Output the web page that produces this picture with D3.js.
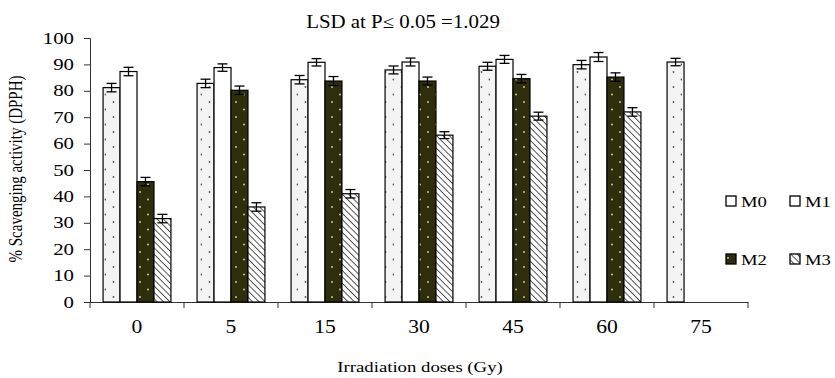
<html>
<head>
<meta charset="utf-8">
<script src="https://d3js.org/d3.v7.min.js"></script>
<style>
body { margin: 0; background: white; }
text { font-family: "Liberation Serif", "Times New Roman", serif; fill: #000; }
</style>
</head>
<body>
<div id="chart"></div>
<script>
// values
var doses = ["0", "5", "15", "30", "45", "60", "75"];
var series = ["M0", "M1", "M2", "M3"];
var m0 = [81.2, 82.8, 84.2, 87.9, 89.3, 89.9, 90.9];
var m1 = [87.3, 88.8, 90.8, 90.9, 91.9, 92.8, null];
var m2 = [45.6, 80.2, 83.7, 83.7, 84.6, 85.2, null];
var m3 = [31.6, 36.0, 41.0, 63.2, 70.4, 72.0, null];
var errM0 = [1.6, 1.6, 1.6, 1.5, 1.5, 1.6, 1.4];
var errM1 = [1.6, 1.4, 1.4, 1.5, 1.5, 1.7, null];
var errM2 = [1.6, 1.6, 1.7, 1.5, 1.6, 1.6, null];
var errM3 = [1.6, 1.6, 1.6, 1.3, 1.5, 1.6, null];
var yTicks = [0, 10, 20, 30, 40, 50, 60, 70, 80, 90, 100];

var W = 835, H = 378;
var margin = {top: 38, right: 87, bottom: 76, left: 90},
    width = W - margin.left - margin.right,
    height = H - margin.top - margin.bottom;

var svg = d3.select("#chart").append("svg")
    .attr("width", W)
    .attr("height", H);

var defs = svg.append("defs");

// M0: pale dotted
var p0 = defs.append("pattern").attr("id", "pM0")
    .attr("patternUnits", "userSpaceOnUse").attr("width", 16).attr("height", 15);
p0.append("rect").attr("width", 16).attr("height", 15).attr("fill", "#f4f4f4");
p0.append("circle").attr("cx", 7.5).attr("cy", 4).attr("r", 0.9).attr("fill", "#555");
p0.append("circle").attr("cx", 15.5).attr("cy", 11.5).attr("r", 0.9).attr("fill", "#555");

// M2: dark olive with light dots
var p2 = defs.append("pattern").attr("id", "pM2")
    .attr("patternUnits", "userSpaceOnUse").attr("width", 16).attr("height", 15);
p2.append("rect").attr("width", 16).attr("height", 15).attr("fill", "#2f2e0c");
p2.append("circle").attr("cx", 2).attr("cy", 4).attr("r", 1).attr("fill", "#c9c78e");
p2.append("circle").attr("cx", 10).attr("cy", 11.5).attr("r", 1).attr("fill", "#c9c78e");

// M3: diagonal hatch, top-left to bottom-right
var p3 = defs.append("pattern").attr("id", "pM3")
    .attr("patternUnits", "userSpaceOnUse").attr("width", 4.5).attr("height", 4.5)
    .attr("patternTransform", "rotate(-45)");
p3.append("rect").attr("width", 4.5).attr("height", 4.5).attr("fill", "#fff");
p3.append("line").attr("x1", 0).attr("y1", 0).attr("x2", 0).attr("y2", 4.5)
    .attr("stroke", "#3a3a3a").attr("stroke-width", 1.7);

var fills = {M0: "url(#pM0)", M1: "#ffffff", M2: "url(#pM2)", M3: "url(#pM3)"};
var values = {M0: m0, M1: m1, M2: m2, M3: m3};
var errors = {M0: errM0, M1: errM1, M2: errM2, M3: errM3};

var g = svg.append("g")
    .attr("transform", "translate(" + margin.left + "," + margin.top + ")");

var x0 = d3.scaleBand().domain(doses).range([0, width]).padding(0);
var x1 = d3.scaleBand().domain(series).range([0, x0.bandwidth()])
    .paddingInner(0).paddingOuter(0.77);
var y = d3.scaleLinear().domain([0, 100]).range([height, 0]);

// y axis
var yAxis = g.append("g")
    .call(d3.axisLeft(y).tickValues(yTicks).tickSize(6).tickPadding(0));
yAxis.select(".domain").attr("stroke", "#333");
yAxis.selectAll(".tick line").attr("stroke", "#333");
yAxis.selectAll(".tick text")
    .attr("x", null)
    .attr("transform", "translate(-16,0) scale(1.3,1)")
    .style("font-size", "16px")
    .style("font-family", "Liberation Serif");

// x axis: labels at band centres, ticks at band edges
var xAxis = g.append("g")
    .attr("transform", "translate(0," + height + ")")
    .call(d3.axisBottom(x0).tickSize(0).tickPadding(0));
xAxis.select(".domain").attr("stroke", "#333");
xAxis.selectAll(".tick text")
    .attr("y", null).attr("dy", null)
    .attr("transform", "translate(0,31) scale(1.2,1)")
    .style("font-size", "18px")
    .style("font-family", "Liberation Serif");
g.append("g").selectAll("line")
    .data(doses.concat(["end"]))
    .enter().append("line")
    .attr("x1", function(d, i) { return i < doses.length ? x0(d) : width; })
    .attr("x2", function(d, i) { return i < doses.length ? x0(d) : width; })
    .attr("y1", height).attr("y2", height + 6)
    .attr("stroke", "#333");

// bars
var rows = [];
doses.forEach(function(d, i) {
  series.forEach(function(s) {
    if (values[s][i] != null) rows.push({dose: d, s: s, v: values[s][i], e: errors[s][i]});
  });
});

g.append("g").selectAll("rect")
  .data(rows)
  .enter().append("rect")
    .attr("x", function(d) { return x0(d.dose) + x1(d.s); })
    .attr("y", function(d) { return y(d.v); })
    .attr("width", x1.bandwidth())
    .attr("height", function(d) { return height - y(d.v); })
    .attr("fill", function(d) { return fills[d.s]; })
    .attr("stroke", "#000")
    .attr("stroke-width", 1.2);

// error bars
var eb = g.append("g").selectAll("g")
  .data(rows)
  .enter().append("g")
    .attr("transform", function(d) { return "translate(" + (x0(d.dose) + x1(d.s) + x1.bandwidth() / 2) + ",0)"; })
    .attr("stroke", "#000").attr("stroke-width", 1.3);
eb.append("line").attr("x1", 0).attr("x2", 0)
  .attr("y1", function(d) { return y(d.v + d.e); })
  .attr("y2", function(d) { return y(d.v - d.e); });
eb.append("line").attr("x1", -5).attr("x2", 5)
  .attr("y1", function(d) { return y(d.v + d.e); })
  .attr("y2", function(d) { return y(d.v + d.e); });
eb.append("line").attr("x1", -5).attr("x2", 5)
  .attr("y1", function(d) { return y(d.v - d.e); })
  .attr("y2", function(d) { return y(d.v - d.e); });

// title
svg.append("text")
  .attr("transform", "translate(403,28) scale(1.16,1)")
  .attr("text-anchor", "middle")
  .style("font-size", "18px")
  .text("LSD at P\u2264 0.05 =1.029");

// axis titles
svg.append("text")
  .attr("transform", "translate(420,372) scale(1.25,1)")
  .attr("text-anchor", "middle")
  .style("font-size", "15px")
  .text("Irradiation doses (Gy)");
svg.append("text")
  .attr("transform", "translate(22,169) rotate(-90) scale(1,1.25)")
  .attr("text-anchor", "middle")
  .style("font-size", "15px")
  .text("% Scavenging activity (DPPH)");

// legend
var legPos = [[726, 196], [790, 196], [726, 254], [790, 254]];
var leg = svg.append("g").selectAll("g")
  .data(series)
  .enter().append("g")
    .attr("transform", function(d, i) { return "translate(" + legPos[i][0] + "," + legPos[i][1] + ")"; });
leg.append("rect")
  .attr("width", 10).attr("height", 10)
  .attr("fill", function(d) { return d === "M0" ? "#fff" : fills[d]; })
  .attr("stroke", "#000").attr("stroke-width", 1.3);
leg.append("text")
  .attr("transform", "translate(15,10.5) scale(1.2,1)")
  .style("font-size", "15.5px")
  .text(function(d) { return d; });
</script>
</body>
</html>
